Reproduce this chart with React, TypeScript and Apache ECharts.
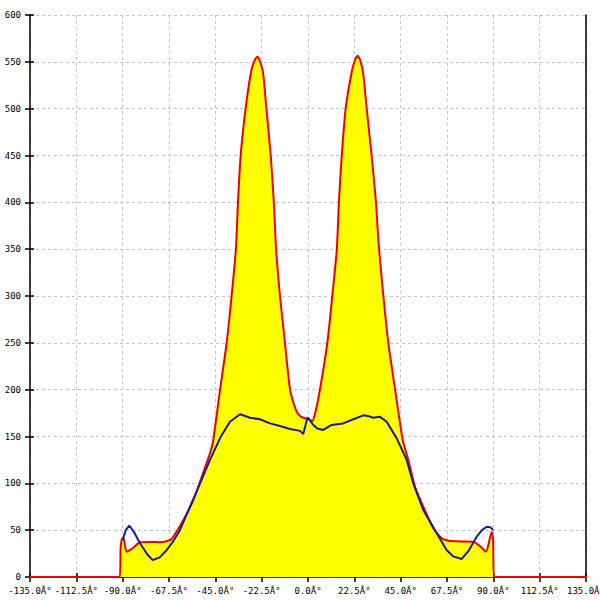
import React, { useEffect, useRef } from "react";
import * as echarts from "echarts";

const xTickValues = [-135, -112.5, -90, -67.5, -45, -22.5, 0, 22.5, 45, 67.5, 90, 112.5, 135];
const xTickLabels = [
  "-135.0Â°", "-112.5Â°", "-90.0Â°", "-67.5Â°", "-45.0Â°", "-22.5Â°", "0.0Â°",
  "22.5Â°", "45.0Â°", "67.5Â°", "90.0Â°", "112.5Â°", "135.0Â°",
];
const yTickLabels = ["0", "50", "100", "150", "200", "250", "300", "350", "400", "450", "500", "550", "600"];

// Red outline / yellow filled series: [angle, value]
const redAngles = [
  -180, -91.4, -91.0, -90.5, -89.7, -88.1, -85.0, -81.6, -76.0, -71.9, -67.0, -65.4, -60.5, -55.7,
  -51.6, -47.6, -46.0, -42.7, -39.5, -37.1, -35.0, -34.0, -32.7, -30.3, -27.6, -25.8, -24.6, -23.4,
  -21.8, -20.2, -18.1, -16.6, -15.5, -13.6, -11.2, -8.7, -5.8, -3.9, -1.5, 0.5, 2.0, 3.5, 5.8, 9.4,
  11.8, 14.0, 15.0, 16.4, 18.3, 21.3, 23.0, 24.1, 25.3, 26.8, 28.5, 30.9, 33.0, 33.9, 34.5, 36.6,
  39.0, 42.3, 46.0, 48.7, 52.0, 56.0, 60.9, 65.0, 68.1, 74.0, 80.3, 83.5, 86.4, 89.2, 89.9, 90.3, 180,
];
const redValues = [
  0, 0, 30, 39.5, 42.4, 27, 31, 37, 37.5, 37, 39.5, 43, 60.8, 82,
  107, 132, 146, 200, 250, 300, 350, 400, 450, 500, 540, 552, 555.5, 551,
  538, 500, 450, 400, 350, 300, 250, 200, 178, 172, 169.5, 168.5, 166.5, 175, 200, 250,
  300, 350, 400, 450, 500, 540, 553, 556.5, 552, 538, 500, 450, 400, 369, 350, 300,
  250, 200, 146, 125, 96, 75, 52, 41, 38.8, 38, 37.7, 33, 27, 48, 40, 0, 0,
];

// Blue line series
const blueAngles = [
  -90.0, -88.5, -86.8, -84.5, -81.6, -78.0, -75.4, -72.0, -68.6, -65.5, -62.2, -57.3, -52.4, -47.6,
  -42.3, -37.9, -33.0, -28.2, -23.3, -18.5, -13.6, -8.7, -3.9, -2.3, -0.2, 2.6, 4.5, 7.4, 11.5,
  17.1, 22.0, 26.9, 29.0, 31.7, 35.0, 38.2, 43.1, 47.9, 51.1, 56.0, 62.5, 67.3, 70.5, 74.6, 78.0,
  81.9, 84.5, 86.8, 88.5, 90.0,
];
const blueValues = [
  39.5, 50, 55, 48, 36, 24, 18, 21, 28.8, 38, 50, 75, 100, 125,
  150, 165.8, 173.7, 170, 168.4, 164, 161.2, 158, 156, 152.7, 170.5, 162.3, 158.5, 157, 162.3,
  164, 168.4, 172.6, 172, 170, 171, 165.8, 148, 125, 100, 71.5, 46.6, 28.8, 22, 19.2, 28,
  43, 50, 53.7, 53, 50.2,
];

const FONT = "DejaVu Sans Mono";

export default function App() {
  const ref = useRef<HTMLDivElement>(null);
  useEffect(() => {
    document.body.style.margin = "0";
    if (!ref.current) return;
    const chart = echarts.init(ref.current, undefined, { renderer: "svg" });
    const xLabel = (v: number) => {
      const i = xTickValues.indexOf(v);
      return i >= 0 ? xTickLabels[i] : "";
    };
    const yLabel = (v: number) => yTickLabels[Math.round(v / 50)] ?? "";
    const gridLine = { show: true, lineStyle: { color: "#c4c4c4", type: [3, 3] as any, width: 1 } };
    chart.setOption({
      animation: false,
      backgroundColor: "#ffffff",
      grid: { left: 30, right: 14, top: 15, bottom: 23, containLabel: false, outerBoundsMode: "none" },
      xAxis: [
        {
          type: "value",
          min: -135,
          max: 135,
          interval: 22.5,
          position: "bottom",
          axisLine: { show: true, onZero: false, lineStyle: { color: "#000", width: 1.5 } },
          axisTick: { show: true, inside: false, length: 5, lineStyle: { color: "#000", width: 1.5 } },
          axisLabel: {
            show: true,
            formatter: xLabel,
            color: "#000",
            fontFamily: FONT,
            fontSize: 9,
            margin: 9,
            showMinLabel: true,
            showMaxLabel: true,
            hideOverlap: false,
          },
          splitLine: gridLine,
        },
        {
          type: "value",
          min: -135,
          max: 135,
          interval: 22.5,
          position: "bottom",
          axisLine: { show: false, onZero: false },
          axisTick: { show: true, inside: true, length: 4, lineStyle: { color: "#000", width: 1.5 } },
          axisLabel: { show: false },
          splitLine: { show: false },
        },
      ],
      yAxis: [
        {
          type: "value",
          min: 0,
          max: 600,
          interval: 50,
          position: "left",
          axisLine: { show: true, onZero: false, lineStyle: { color: "#000", width: 1.5 } },
          axisTick: { show: true, inside: false, length: 5, lineStyle: { color: "#000", width: 1.5 } },
          axisLabel: {
            show: true,
            formatter: yLabel,
            color: "#000",
            fontFamily: FONT,
            fontSize: 9,
            margin: 9,
          },
          splitLine: gridLine,
        },
        {
          type: "value",
          min: 0,
          max: 600,
          interval: 50,
          position: "left",
          axisLine: { show: false, onZero: false },
          axisTick: { show: true, inside: true, length: 4, lineStyle: { color: "#000", width: 1.5 } },
          axisLabel: { show: false },
          splitLine: { show: false },
        },
        {
          type: "value",
          min: 0,
          max: 600,
          interval: 50,
          position: "right",
          axisLine: { show: true, onZero: false, lineStyle: { color: "#000", width: 1.5 } },
          axisTick: { show: false },
          axisLabel: { show: false },
          splitLine: { show: false },
        },
      ],
      series: [
        {
          type: "line",
          xAxisIndex: 0,
          yAxisIndex: 0,
          data: redAngles.map((a, i) => [a, redValues[i]]),
          showSymbol: false,
          symbol: "none",
          clip: false,
          smooth: 0.2,
          lineStyle: { color: "#ee0000", width: 2 },
          areaStyle: { color: "#ffff00", opacity: 1, origin: "start" },
          z: 2,
        },
        {
          type: "line",
          xAxisIndex: 0,
          yAxisIndex: 0,
          data: blueAngles.map((a, i) => [a, blueValues[i]]),
          showSymbol: false,
          symbol: "none",
          lineStyle: { color: "#1a1a9a", width: 2 },
          z: 3,
        },
      ],
    });
    return () => chart.dispose();
  }, []);
  return <div ref={ref} style={{ width: 600, height: 600 }} />;
}
